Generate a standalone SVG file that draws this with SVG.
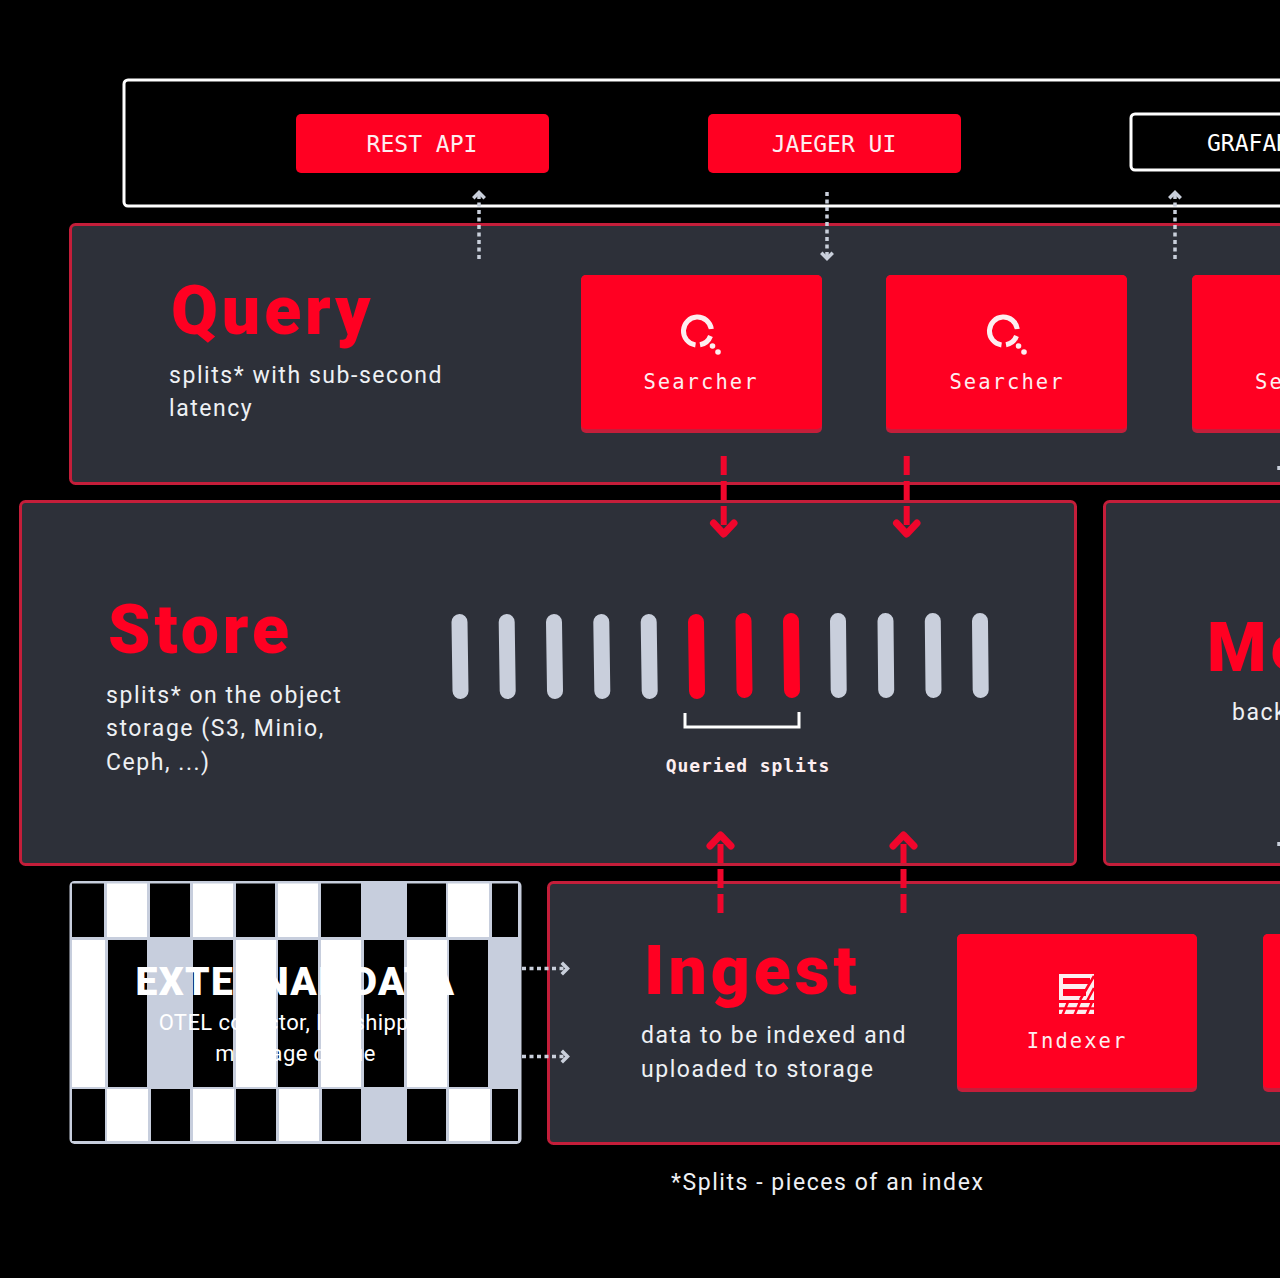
<svg xmlns="http://www.w3.org/2000/svg" width="1280" height="1278" viewBox="0 0 1280 1278">
<defs>
<style>
.panel{fill:#2d3039;stroke:#c41e3a;stroke-width:3}
.red{fill:#ff0022}
.edge{fill:#c41e3a}
.title{font-family:Roboto,"Liberation Sans",sans-serif;font-weight:900;font-size:68px;fill:#ff0022;letter-spacing:3.9px}
.body{font-family:Roboto,"Liberation Sans",sans-serif;font-size:23px;fill:#eef0f4;letter-spacing:1.55px}
.mono{font-family:"DejaVu Sans Mono","Liberation Mono",monospace;fill:#fdeef0;text-anchor:middle}
.btn{font-size:23px}
.lbl{font-size:20.5px;letter-spacing:2.05px}
.gdot{stroke:#c9cfdb;stroke-width:3.5;fill:none;stroke-dasharray:4 3.5}
.ghead{stroke:#c9cfdb;stroke-width:3.5;fill:none;stroke-linecap:square}
.rline{stroke:#f0062c;stroke-width:6;fill:none;stroke-dasharray:19 6}
.rhead{stroke:#f0062c;stroke-width:7;fill:none;stroke-linecap:round;stroke-linejoin:round}
.bar{stroke:#c9cfdc;stroke-width:16;stroke-linecap:round}
.barr{stroke:#ff0022;stroke-width:16;stroke-linecap:round}
.icon{stroke:#fdeef0;stroke-width:5;fill:none}
.k{fill:#000}.w{fill:#fff}.g{fill:#c7cedd}
</style>
<g id="search-icon">
<path class="icon" d="M 13.800 -2 A 14 14 0 1 0 -2 13.900"/>
<path class="icon" d="M 2.500 13.800 A 14 14 0 0 0 13 5"/>
<circle cx="15" cy="15" r="2.8" fill="#fdeef0"/>
<circle cx="20.500" cy="21" r="2.8" fill="#fdeef0"/>
</g>
</defs>
<rect width="1280" height="1278" fill="#000"/>

<g id="clients">
<rect x="124" y="80" width="1180" height="126" rx="4" fill="#000" stroke="#fff" stroke-width="3"/>
</g>
<g id="rest-api">
<rect class="red" x="296" y="114" width="253" height="59" rx="5"/>
<text class="mono btn" x="422" y="152">REST API</text>
</g>
<g id="jaeger-ui">
<rect class="red" x="708" y="114" width="253" height="59" rx="5"/>
<text class="mono btn" x="834" y="152">JAEGER UI</text>
</g>
<g id="grafana">
<rect x="1131" y="114" width="200" height="56" rx="4" fill="#000" stroke="#fff" stroke-width="3"/>
<text class="mono btn" x="1207" y="151" style="text-anchor:start;fill:#fff">GRAFAN</text>
</g>

<g id="query">
<rect class="panel" x="70.500" y="224.500" width="1240" height="259" rx="5"/>
<text class="title" x="171" y="334">Query</text>
<text class="body" x="169" y="383">splits* with sub-second</text>
<text class="body" x="169" y="416">latency</text>
</g>
<g id="searcher-1">
<rect class="edge" x="581" y="275" width="241" height="158" rx="5"/>
<rect class="red" x="581" y="275" width="241" height="154" rx="5"/>
<use href="#search-icon" x="697.500" y="331"/>
<text class="mono lbl" x="701" y="389">Searcher</text>
</g>
<g id="searcher-2">
<rect class="edge" x="886" y="275" width="241" height="158" rx="5"/>
<rect class="red" x="886" y="275" width="241" height="154" rx="5"/>
<use href="#search-icon" x="1003.500" y="331"/>
<text class="mono lbl" x="1007" y="389">Searcher</text>
</g>
<g id="searcher-3">
<rect class="edge" x="1192" y="275" width="140" height="158" rx="5"/>
<rect class="red" x="1192" y="275" width="140" height="154" rx="5"/>
<text class="mono lbl" x="1255" y="389" style="text-anchor:start">Se</text>
</g>

<g id="store">
<rect class="panel" x="20.500" y="501.500" width="1055" height="363" rx="5"/>
<text class="title" x="108" y="653">Store</text>
<text class="body" x="106" y="703">splits* on the object</text>
<text class="body" x="106" y="736">storage (S3, Minio,</text>
<text class="body" x="106" y="770">Ceph, ...)</text>
</g>
<g id="splits">
<line class="bar" x1="459.500" y1="622" x2="460.500" y2="691"/>
<line class="bar" x1="506.700" y1="622" x2="507.700" y2="691"/>
<line class="bar" x1="554" y1="622" x2="555" y2="691"/>
<line class="bar" x1="601.300" y1="622" x2="602.300" y2="691"/>
<line class="bar" x1="648.700" y1="622" x2="649.700" y2="691"/>
<line class="barr" x1="696" y1="622" x2="697" y2="691"/>
<line class="barr" x1="743.500" y1="621" x2="744.500" y2="690"/>
<line class="barr" x1="791" y1="621" x2="792" y2="690"/>
<line class="bar" x1="838" y1="621" x2="838.700" y2="690"/>
<line class="bar" x1="885.500" y1="621" x2="886.200" y2="690"/>
<line class="bar" x1="932.800" y1="621" x2="933.500" y2="690"/>
<line class="bar" x1="980" y1="621" x2="980.700" y2="690"/>
<path d="M 685 713 V 727 H 799 V 712" fill="none" stroke="#fff" stroke-width="3"/>
<text class="mono" x="748" y="772" style="font-size:18px;font-weight:bold;letter-spacing:.9px">Queried splits</text>
</g>

<g id="metastore">
<rect class="panel" x="1104.500" y="501.500" width="260" height="363" rx="5"/>
<text class="title" x="1207" y="671">Me</text>
<text class="body" x="1232" y="720">back</text>
</g>

<g id="external-data">
<rect x="69.500" y="881" width="452" height="263" rx="5" fill="#c7cedd"/>
<g>
<rect class="k" x="72" y="883.500" width="32" height="53.500"/><rect class="w" x="107" y="883.500" width="40" height="53.500"/><rect class="k" x="150" y="883.500" width="40" height="53.500"/><rect class="w" x="193" y="883.500" width="40" height="53.500"/><rect class="k" x="236" y="883.500" width="39" height="53.500"/><rect class="w" x="278" y="883.500" width="40" height="53.500"/><rect class="k" x="321" y="883.500" width="40" height="53.500"/><rect class="k" x="407" y="883.500" width="39" height="53.500"/><rect class="w" x="448" y="883.500" width="41" height="53.500"/><rect class="k" x="492" y="883.500" width="26" height="53.500"/>
<rect class="w" x="72" y="940" width="33" height="147"/><rect class="k" x="108" y="940" width="39" height="147"/><rect class="k" x="193" y="940" width="40" height="147"/><rect class="w" x="236" y="940" width="40" height="147"/><rect class="k" x="278" y="940" width="40" height="147"/><rect class="w" x="321" y="940" width="40" height="147"/><rect class="k" x="364" y="940" width="40" height="147"/><rect class="w" x="407" y="940" width="40" height="147"/><rect class="k" x="449" y="940" width="39" height="147"/>
<rect class="k" x="72" y="1089" width="33" height="52"/><rect class="w" x="107" y="1089" width="41" height="52"/><rect class="k" x="151" y="1089" width="39" height="52"/><rect class="w" x="193" y="1089" width="41" height="52"/><rect class="k" x="236" y="1089" width="40" height="52"/><rect class="w" x="279" y="1089" width="40" height="52"/><rect class="k" x="322" y="1089" width="39" height="52"/><rect class="k" x="407" y="1089" width="39" height="52"/><rect class="w" x="449" y="1089" width="41" height="52"/><rect class="k" x="492" y="1089" width="26" height="52"/>
</g>
<text x="295.500" y="995" text-anchor="middle" style="font-family:Roboto,'Liberation Sans',sans-serif;font-weight:900;font-size:39px;fill:#fff;letter-spacing:1.4px">EXTERNAL DATA</text>
<text x="295.500" y="1030" text-anchor="middle" style="font-family:Roboto,'Liberation Sans',sans-serif;font-size:22px;fill:#fff;letter-spacing:.4px">OTEL collector, log shipper,</text>
<text x="295.500" y="1061" text-anchor="middle" style="font-family:Roboto,'Liberation Sans',sans-serif;font-size:22px;fill:#fff;letter-spacing:.4px">message queue</text>
</g>

<g id="ingest">
<rect class="panel" x="548.500" y="882.500" width="800" height="261" rx="5"/>
<text class="title" x="644" y="994">Ingest</text>
<text class="body" x="641" y="1043">data to be indexed and</text>
<text class="body" x="641" y="1077">uploaded to storage</text>
</g>
<g id="indexer-1">
<rect class="edge" x="957" y="934" width="240" height="158" rx="5"/>
<rect class="red" x="957" y="934" width="240" height="154" rx="5"/>
<g>
<path d="M1059 974H1094V1000H1059Z M1063 978V984H1090V978Z M1063 989V996H1086V989Z" fill="#fdeef0" fill-rule="evenodd"/>
<path d="M1059 1003H1094V1014H1059Z" fill="#fdeef0"/>
<path d="M1094 976L1080 1000M1094 988L1087 1001M1062 1016L1068 1002M1074 1016L1080 1002M1086 1016L1092 1002M1056 1008.500H1098" stroke="#ff0022" stroke-width="2.500" fill="none"/>
</g>
<text class="mono lbl" x="1077" y="1048">Indexer</text>
</g>
<g id="indexer-2">
<rect class="edge" x="1263" y="934" width="40" height="158" rx="5"/>
<rect class="red" x="1263" y="934" width="40" height="154" rx="5"/>
</g>
<g id="footnote">
<text class="body" x="671" y="1190">*Splits - pieces of an index</text>
</g>

<g id="connectors">
<path class="gdot" d="M479 259V194"/><path class="ghead" d="M474.500 197L479 192.500L483.500 197"/>
<path class="gdot" d="M827 192V256"/><path class="ghead" d="M822.500 254L827 258.500L831.500 254"/>
<path class="gdot" d="M1175 259V194"/><path class="ghead" d="M1170.500 197L1175 192.500L1179.500 197"/>
<path class="gdot" d="M522 968.500H566"/><path class="ghead" d="M563 964L567.500 968.500L563 973"/>
<path class="gdot" d="M522 1056.500H566"/><path class="ghead" d="M563 1052L567.500 1056.500L563 1061"/>
<path class="gdot" d="M1279 466V470"/><path class="gdot" d="M1279 842V846"/>
<path class="rline" d="M723.700 456V534"/><path class="rhead" d="M713.500 523L723.700 534L734 523"/>
<path class="rline" d="M906.700 456V534"/><path class="rhead" d="M896.500 523L906.700 534L917 523"/>
<path class="rline" d="M720.500 913V836"/><path class="rhead" d="M710 846L720.500 835L731 846"/>
<path class="rline" d="M903.500 913V836"/><path class="rhead" d="M893 846L903.500 835L914 846"/>
</g>
</svg>
